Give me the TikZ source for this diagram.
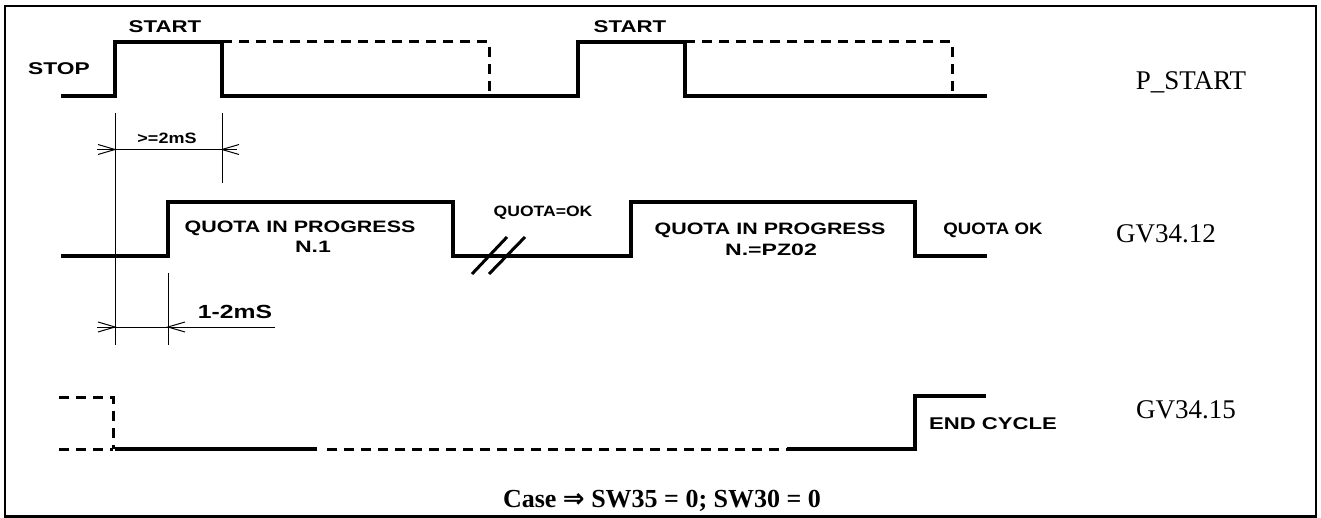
\documentclass[tikz,border=0pt]{standalone}
\usepackage{fontspec}
\setmainfont{Liberation Serif}
\setsansfont{Liberation Sans}
\newfontfamily\djv{DejaVu Sans}
\newcommand{\stx}[3]{\scalebox{#2}[1]{\fontsize{#1}{#1}\selectfont\sffamily\bfseries #3}}
\newcommand{\srf}[1]{{\fontsize{27}{27}\selectfont #1}}
\begin{document}
\begin{tikzpicture}[x=1pt,y=-1pt,
  wave/.style={line width=3.6pt, line join=miter},
  dashw/.style={line width=3pt, dash pattern=on 10pt off 7pt},
  dim/.style={line width=1pt},
  lab/.style={inner sep=0pt, anchor=base}]
\useasboundingbox (0,0) rectangle (1321,518);
\draw[line width=2.2pt] (5,6) rectangle (1316,516.5);

% P_START waveform
\draw[wave] (61,96) -- (115,96) -- (115,42) -- (222,42) -- (222,96) -- (578,96) -- (578,42) -- (685,42) -- (685,96) -- (987,96);
\draw[dashw] (222,42) -- (489,42) -- (489,96);
\draw[dashw] (685,42) -- (952,42) -- (952,96);

% GV34.12 waveform
\draw[wave] (61,256) -- (168,256) -- (168,202) -- (453,202) -- (453,256) -- (631,256) -- (631,202) -- (915,202) -- (915,256) -- (987,256);
\draw[line width=3pt] (472,274) -- (507,237);
\draw[line width=3pt] (489,274) -- (525,237);

% GV34.15 waveform
\draw[dashw] (59,397) -- (113,397) -- (113,449);
\draw[dashw] (59,449) -- (113,449);
\draw[wave] (115,449) -- (317,449);
\draw[dashw] (327,449) -- (787,449);
\draw[wave] (787,449) -- (915,449) -- (915,396) -- (986,396);

% dimension lines
\draw[dim] (115,113) -- (115,345);
\draw[dim] (222,113) -- (222,183);
\draw[dim] (168,273) -- (168,345);
\draw[dim] (97,149.5) -- (237,149.5);
\draw[dim] (98,144.5) -- (115,149.5) -- (98,154.5);
\draw[dim] (239,144.5) -- (222,149.5) -- (239,154.5);
\draw[dim] (97,327) -- (275,327);
\draw[dim] (98,322) -- (115,327) -- (98,332);
\draw[dim] (185,322) -- (168,327) -- (185,332);

% labels
\node[lab] (start1) at (165,33) {\stx{17}{1.31}{START}};
\node[lab] (start2) at (630,33) {\stx{17}{1.31}{START}};
\node[lab] (stop) at (59,75) {\stx{17}{1.34}{STOP}};
\node[lab] (pstart) at (1191,90) {\srf{P\_START}};
\node[lab] (t2ms) at (167,144) {\stx{15}{1.2}{>=2mS}};
\node[lab] (qip1) at (300,233) {\stx{16.5}{1.3}{QUOTA IN PROGRESS}};
\node[lab] (n1) at (313,253) {\stx{16.5}{1.4}{N.1}};
\node[lab] (qok1) at (543,217) {\stx{15}{1.17}{QUOTA=OK}};
\node[lab] (qip2) at (770,235) {\stx{16.5}{1.3}{QUOTA IN PROGRESS}};
\node[lab] (n2) at (771,256) {\stx{16.5}{1.4}{N.=PZ02}};
\node[lab] (qok2) at (993,235) {\stx{16.5}{1.13}{QUOTA OK}};
\node[lab] (gv12) at (1166,243) {\srf{GV34.12}};
\node[lab] (t12ms) at (235,319) {\stx{19}{1.3}{1-2mS}};
\node[lab] (endc) at (993,429) {\stx{17}{1.3}{END CYCLE}};
\node[lab] (gv15) at (1186,418) {\srf{GV34.15}};
\node[lab] (caption) at (662,507) {\fontsize{26}{26}\selectfont\bfseries Case {\djv ⇒} SW35 = 0; SW30 = 0};
\end{tikzpicture}
\end{document}
